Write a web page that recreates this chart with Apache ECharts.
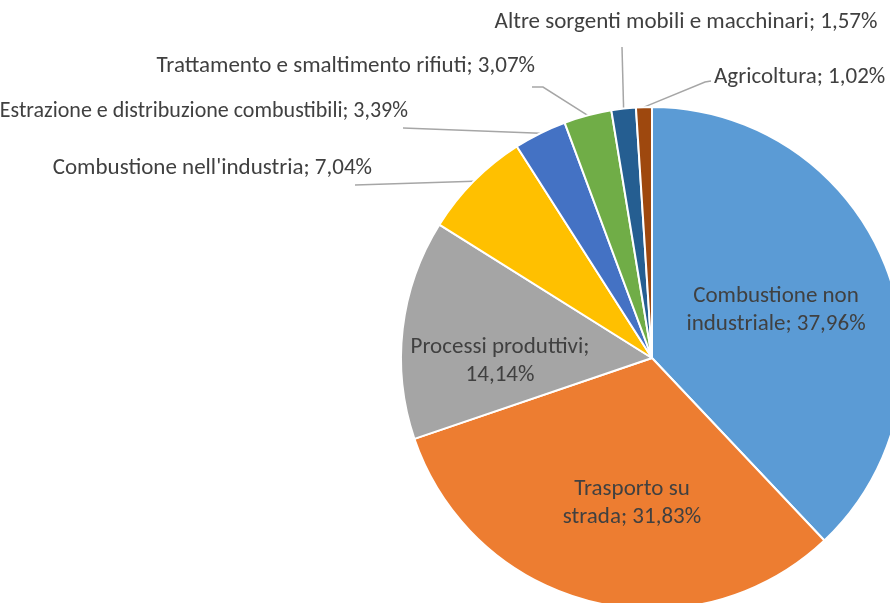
<!DOCTYPE html>
<html>
<head>
<meta charset="utf-8">
<script src="https://cdn.jsdelivr.net/npm/echarts@6/dist/echarts.min.js"></script>
<style>
  * { margin: 0; padding: 0; }
  html, body { background: #fff; }
</style>
</head>
<body>
<div id="chartPie" style="width:890px;height:603px;"></div>
<script>
// fonti di emissione e percentuali
var categories = [
  "Combustione non industriale",
  "Trasporto su strada",
  "Processi produttivi",
  "Combustione nell'industria",
  "Estrazione e distribuzione combustibili",
  "Trattamento e smaltimento rifiuti",
  "Altre sorgenti mobili e macchinari",
  "Agricoltura"
];
var values = [37.96, 31.83, 14.14, 7.04, 3.39, 3.07, 1.57, 1.02];
var colors = ["#5B9BD5", "#ED7D31", "#A5A5A5", "#FFC000", "#4472C4", "#70AD47", "#255E91", "#9E480E"];
// testo delle etichette interne (a capo come nell'originale)
var insideText = {
  0: "Combustione non\nindustriale; 37,96%",
  1: "Trasporto su\nstrada; 31,83%",
  2: "Processi produttivi;\n14,14%"
};

// posizione delle etichette (x, y, allineamento)
var labelPos = {
  0: [776, 310, "center"],
  1: [632, 503, "center"],
  2: [500, 361, "center"],
  3: [372, 168, "right"],
  4: [408, 111, "right"],
  5: [535, 66, "right"],
  6: [686, 22, "center"],
  7: [714, 77, "left"]
};
// punti finali delle linee guida (dopo il punto sul settore)
var linePts = {
  3: [[355, 185]],
  4: [[403, 128]],
  5: [[543, 87], [532, 87]],
  6: [[622, 47]],
  7: [[705, 82], [711, 81]]
};

function fmt(v) {
  return v.toFixed(2).replace(".", ",") + "%";
}

var chart = echarts.init(document.getElementById("chartPie"));
var pieData = categories.map(function (name, i) {
  var inside = insideText[i] !== undefined;
  var lbl = { position: inside ? "inside" : "outside" };
  // etichetta più lunga: leggermente più stretta per stare nel riquadro
  if (i === 4) lbl.fontSize = 22;
  return {
    name: name,
    value: values[i],
    itemStyle: { color: colors[i] },
    label: lbl,
    labelLine: { show: !inside }
  };
});

var option = {
  animation: false,
  series: [
    {
      type: "pie",
      center: [652, 358],
      radius: [0, 251],
      startAngle: 90,
      clockwise: true,
      data: pieData,
      itemStyle: { borderColor: "#fff", borderWidth: 2 },
      label: {
        fontFamily: "Carlito, 'Open Sans', sans-serif",
        fontSize: 23,
        lineHeight: 28,
        color: "#404040",
        overflow: "none",
        edgeDistance: 0,
        formatter: function (p) {
          if (insideText[p.dataIndex] !== undefined) return insideText[p.dataIndex];
          return p.name + "; " + fmt(p.value);
        }
      },
      labelLine: {
        length: 20,
        length2: 20,
        lineStyle: { color: "#A6A6A6", width: 1.5 }
      },
      labelLayout: function (params) {
        var i = params.dataIndex;
        var pos = labelPos[i];
        var out = {
          x: pos[0],
          y: pos[1],
          align: pos[2],
          verticalAlign: "middle"
        };
        if (linePts[i] && params.labelLinePoints) {
          out.labelLinePoints = [params.labelLinePoints[0]].concat(linePts[i]);
        }
        return out;
      }
    }
  ]
};
chart.setOption(option);
</script>
</body>
</html>
